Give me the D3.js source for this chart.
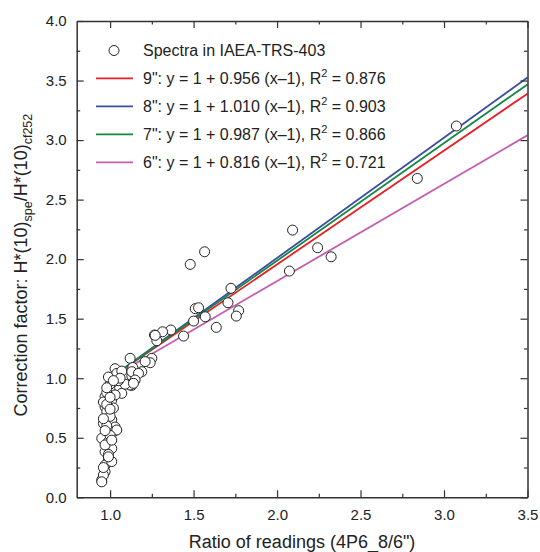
<!DOCTYPE html>
<html><head><meta charset="utf-8">
<script src="https://cdn.jsdelivr.net/npm/d3@7"></script>
<style>body{margin:0;background:#fff;} svg{display:block;font-family:"Liberation Sans",Arial,sans-serif;}</style>
</head><body>
<svg id="c" width="540" height="552"></svg>
<script>
const xTicks = [1.0, 1.5, 2.0, 2.5, 3.0, 3.5];
const yTicks = [0.0, 0.5, 1.0, 1.5, 2.0, 2.5, 3.0, 3.5, 4.0];
const spectraX = [3.074, 2.84, 2.093, 2.243, 2.324, 2.074, 1.566, 1.48, 1.724, 1.706, 1.77, 1.756, 1.51, 1.53, 1.57, 1.50, 1.636, 1.44, 1.364, 1.314, 1.266, 1.28, 1.12, 1.25, 1.24, 1.19, 1.136, 1.13, 1.13, 1.03, 1.21, 1.27,
  1.01, 1.04, 1.07, 1.13, 1.17, 1.15, 1.12, 1.07, 1.09, 1.02, 0.99, 0.97, 0.97, 0.99, 1.01, 1.03, 1.05, 1.01, 1.02, 1.00, 1.14, 1.06, 1.03, 1.00, 0.98, 0.96, 0.98, 1.00,
  0.98, 1.02, 0.95, 0.99, 1.01, 0.97, 0.99, 0.97, 0.97, 0.95, 0.96, 0.95, 1.04, 0.96, 0.98, 1.00, 0.97, 0.99, 1.01, 0.96, 0.98, 1.00, 0.99, 1.02, 0.96, 0.98, 1.00, 0.97, 1.01, 0.99];
const spectraY = [3.118, 2.678, 2.244, 2.096, 2.02, 1.90, 2.062, 1.956, 1.755, 1.634, 1.567, 1.522, 1.584, 1.592, 1.516, 1.48, 1.427, 1.354, 1.405, 1.39, 1.363, 1.315, 1.167, 1.167, 1.13, 1.055, 1.09, 1.02, 0.94, 1.08, 1.14, 1.36,
  1.0, 1.04, 1.06, 1.055, 1.04, 0.985, 0.943, 0.873, 0.95, 0.97, 0.93, 0.845, 0.76, 0.705, 0.65, 0.59, 0.98, 0.817, 0.75, 0.90, 0.957, 1.0, 0.86, 0.95, 0.88, 0.80, 0.72, 0.68,
  0.565, 0.55, 0.495, 0.467, 0.41, 0.383, 0.327, 0.27, 0.215, 0.145, 0.187, 0.13, 0.565, 0.62, 0.60, 0.52, 0.44, 0.36, 0.30, 0.25, 0.78, 0.84, 1.01, 0.98, 0.66, 0.92, 0.74, 0.56, 0.48, 0.34];
const fitLabels = ['9"', '8"', '7"', '6"'];
const fitSlopes = [0.956, 1.010, 0.987, 0.816];
const fitR2 = ['0.876', '0.903', '0.866', '0.721'];
const fitColors = ['#ec1c24', '#3a4ea1', '#128a43', '#c45cb0'];
const fitRange = [1.0, 3.5];

const svg = d3.select('#c');
const L = 76.7, R = 527.5, T = 21, B = 497.3;
const x = d3.scaleLinear().domain([0.8, 3.5]).range([L, R]);
const y = d3.scaleLinear().domain([0, 4]).range([B, T]);
const col = '#333';
const FONT = '"Liberation Sans",Arial,sans-serif';

// lines
const line = d3.line().x(d => x(d[0])).y(d => y(d[1]));
const g = svg.append('g');
fitSlopes.forEach((s, i) => {
  g.append('path').datum(fitRange.map(v => [v, 1 + s * (v - 1)]))
    .attr('d', line).attr('fill', 'none').attr('stroke', fitColors[i]).attr('stroke-width', 1.8);
});
// points
svg.append('g').selectAll('circle').data(spectraX.map((v, i) => [v, spectraY[i]])).join('circle')
  .attr('cx', d => x(d[0])).attr('cy', d => y(d[1])).attr('r', 5)
  .attr('fill', '#fff').attr('stroke', '#222').attr('stroke-width', 1);

// axes
const minorX = d3.range(1.0, 3.5, 0.25).filter(v => Math.abs((v * 2) - Math.round(v * 2)) > 1e-6);
const minorY = d3.range(0.25, 4, 0.5);
function addAxis(axisFn, scale, ticks, tr, size, fmt, labelled, pad) {
  const a = svg.append('g').attr('transform', tr)
    .call(axisFn(scale).tickValues(ticks).tickSizeInner(size).tickSizeOuter(0).tickPadding(pad || 9).tickFormat(labelled ? fmt : ''));
  a.select('.domain').attr('stroke', col).attr('stroke-width', 1.5);
  a.selectAll('.tick line').attr('stroke', col).attr('stroke-width', 1.2);
  a.selectAll('text').attr('font-size', 15).attr('fill', '#222').attr('font-family', FONT);
  return a;
}
const f1 = d3.format('.1f');
addAxis(d3.axisBottom, x, xTicks, `translate(0,${B})`, -7, f1, true, 12);
addAxis(d3.axisBottom, x, minorX, `translate(0,${B})`, -3.5, f1, false).select('.domain').remove();
addAxis(d3.axisTop, x, xTicks, `translate(0,${T})`, -7, f1, false);
addAxis(d3.axisTop, x, minorX, `translate(0,${T})`, -3.5, f1, false).select('.domain').remove();
addAxis(d3.axisLeft, y, yTicks, `translate(${L},0)`, -7, f1, true, 10);
addAxis(d3.axisLeft, y, minorY, `translate(${L},0)`, -3.5, f1, false).select('.domain').remove();
addAxis(d3.axisRight, y, yTicks, `translate(${R},0)`, -7, f1, false);
addAxis(d3.axisRight, y, minorY, `translate(${R},0)`, -3.5, f1, false).select('.domain').remove();

// axis titles
svg.append('text').attr('x', (L + R) / 2).attr('y', 548).attr('text-anchor', 'middle')
  .attr('font-size', 18).attr('fill', '#222').text('Ratio of readings (4P6_8/6")');
const yt = svg.append('text').attr('transform', `translate(27,${(T + B) / 2 + 6}) rotate(-90)`)
  .attr('text-anchor', 'middle').attr('font-size', 18).attr('fill', '#222');
yt.append('tspan').text('Correction factor: H*(10)');
yt.append('tspan').attr('font-size', 12.5).attr('dy', 5).text('spe');
yt.append('tspan').attr('dy', -5).text('/H*(10)');
yt.append('tspan').attr('font-size', 12.5).attr('dy', 5).text('cf252');

// legend
const lg = svg.append('g');
const rowY = [50.5, 78.3, 106.3, 134.3, 162.3];
lg.append('circle').attr('cx', 114).attr('cy', rowY[0]).attr('r', 5).attr('fill', '#fff').attr('stroke', '#222');
lg.append('text').attr('x', 143).attr('y', rowY[0] + 5.5).attr('font-size', 16).attr('fill', '#222').text('Spectra in IAEA-TRS-403');
fitLabels.forEach((lab, i) => {
  const yy = rowY[i + 1];
  lg.append('line').attr('x1', 96).attr('x2', 133).attr('y1', yy).attr('y2', yy).attr('stroke', fitColors[i]).attr('stroke-width', 1.8);
  const t = lg.append('text').attr('x', 143).attr('y', yy + 5.5).attr('font-size', 16).attr('fill', '#222');
  t.append('tspan').text(`${lab}: y = 1 + ${fitSlopes[i].toFixed(3)} (x\u20131), R`);
  t.append('tspan').attr('font-size', 11).attr('dy', -7).text('2');
  t.append('tspan').attr('dy', 7).text(` = ${fitR2[i]}`);
});
</script>
</body></html>
